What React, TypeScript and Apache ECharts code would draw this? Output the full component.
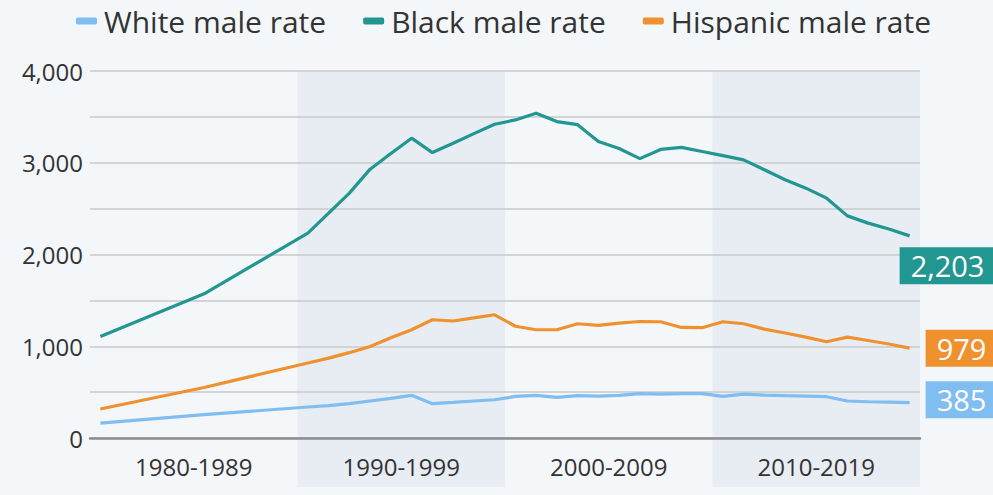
import React, { useEffect, useRef } from "react";
import * as echarts from "echarts";

const years = [
  "1980","1981","1982","1983","1984","1985","1986","1987","1988","1989",
  "1990","1991","1992","1993","1994","1995","1996","1997","1998","1999",
  "2000","2001","2002","2003","2004","2005","2006","2007","2008","2009",
  "2010","2011","2012","2013","2014","2015","2016","2017","2018","2019",
];
const decades = ["1980-1989", "1990-1999", "2000-2009", "2010-2019"];

const whiteRate = [
  163, null, null, null, null, 254, null, null, null, null,
  338, 352, 374, 403, 431, 465, 374, 388, 403, 417,
  453, 464, 442, 461, 457, 464, 483, 479, 483, 483,
  453, 479, 468, 461, 457, 450, 403, 395, 392, 385,
];
const blackRate = [
  1107, null, null, null, null, 1572, null, null, null, null,
  2233, 2450, 2669, 2930, 3100, 3268, 3111, 3213, 3317, 3420,
  3467, 3540, 3449, 3415, 3231, 3155, 3045, 3145, 3168, 3123,
  3077, 3031, 2923, 2814, 2723, 2614, 2421, 2342, 2277, 2203,
];
const hispanicRate = [
  316, null, null, null, null, 551, null, null, null, null,
  817, 871, 930, 998, 1093, 1180, 1289, 1275, 1310, 1343,
  1218, 1180, 1180, 1245, 1227, 1253, 1270, 1267, 1205, 1202,
  1267, 1245, 1187, 1144, 1100, 1049, 1100, 1063, 1024, 979,
];

const FONT = "'Open Sans', sans-serif";
const WHITE = "#80bdf0";
const BLACK = "#229690";
const HISP = "#f0912f";
const BAND = "#e8edf4";
const BG = "#f4f7fa";

export default function App() {
  const ref = useRef<HTMLDivElement>(null);
  useEffect(() => {
    if (!ref.current) return;
    const chart = echarts.init(ref.current, null, { renderer: "svg" });
    const endLabel = (color: string, offset: number[]) => ({
      show: true,
      formatter: (p: any) => Number(p.value).toLocaleString("en-US"),
      backgroundColor: color,
      color: "#ffffff",
      fontFamily: FONT,
      fontSize: 29,
      lineHeight: 31,
      padding: [3, 11, 3, 11],
      offset,
    });
    const line = (name: string, data: any[], color: string, offset: number[]) => ({
      name,
      type: "line",
      data,
      xAxisIndex: 0,
      yAxisIndex: 0,
      connectNulls: true,
      showSymbol: false,
      symbol: "none",
      z: 4,
      lineStyle: { color, width: 3.2 },
      itemStyle: { color },
      endLabel: endLabel(color, offset),
    });
    chart.setOption({
      animation: false,
      backgroundColor: BG,
      textStyle: { fontFamily: FONT },
      legend: {
        top: 1,
        left: 71,
        itemWidth: 21,
        itemHeight: 7,
        itemGap: 37,
        icon: "roundRect",
        textStyle: { fontFamily: FONT, fontSize: 30, color: "#333333", padding: [0, 0, 0, 2] },
        data: ["White male rate", "Black male rate", "Hispanic male rate"],
      },
      grid: [
        { left: 90, right: 73, top: 71, bottom: 57 },
        { left: 90, right: 73, top: 71, bottom: 8 },
      ],
      xAxis: [
        {
          type: "category",
          gridIndex: 0,
          data: years,
          boundaryGap: true,
          z: 3,
          axisLine: { show: true, lineStyle: { color: "#8c8c8c", width: 2.5 } },
          axisTick: { show: false },
          axisLabel: { show: false },
          splitLine: { show: false },
        },
        {
          type: "category",
          gridIndex: 1,
          data: decades,
          boundaryGap: true,
          z: 0,
          axisLine: { show: false },
          axisTick: { show: false },
          axisLabel: {
            show: true,
            inside: true,
            margin: 9,
            fontFamily: FONT,
            fontSize: 24,
            color: "#333333",
          },
          splitLine: { show: false },
          splitArea: { show: true, areaStyle: { color: ["rgba(0,0,0,0)", BAND] } },
        },
      ],
      yAxis: [
        {
          type: "value",
          gridIndex: 0,
          min: 0,
          max: 4000,
          interval: 500,
          z: 2,
          axisLine: { show: false },
          axisTick: { show: false },
          axisLabel: {
            margin: 7,
            fontFamily: FONT,
            fontSize: 24,
            color: "#333333",
            formatter: (v: number) => (v % 1000 === 0 ? v.toLocaleString("en-US") : ""),
          },
          splitLine: { lineStyle: { color: "#c9c9c9", width: 1.5 } },
        },
        {
          type: "value",
          gridIndex: 1,
          min: 0,
          max: 1,
          show: false,
          splitLine: { show: false },
        },
      ],
      series: [
        line("White male rate", whiteRate, WHITE, [8, -3]),
        line("Black male rate", blackRate, BLACK, [-18, 30]),
        line("Hispanic male rate", hispanicRate, HISP, [8, 0]),
      ],
    });
    return () => chart.dispose();
  }, []);
  return (
    <div style={{ position: "absolute", left: 0, top: 0, width: 993, height: 495, background: BG }}>
      <div ref={ref} style={{ width: 993, height: 495 }} />
    </div>
  );
}
